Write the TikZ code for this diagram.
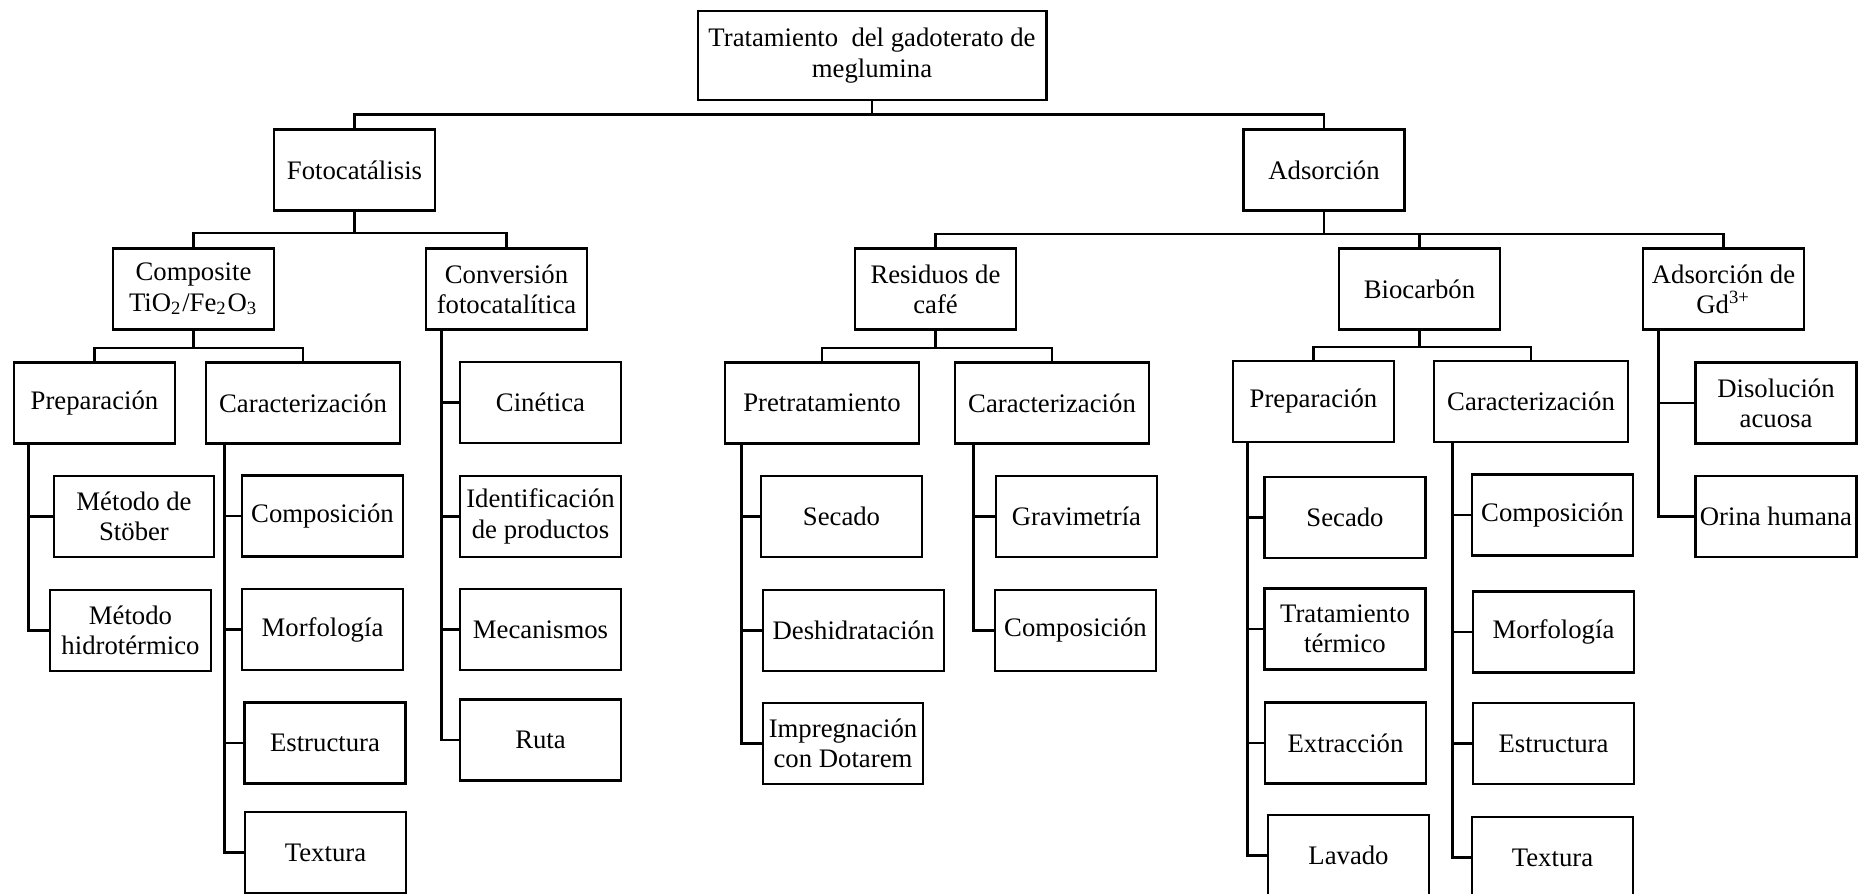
\documentclass[tikz,border=0pt]{standalone}
\usepackage{fontspec}
\setmainfont{Liberation Serif}

\tikzset{
  box/.style={draw, line width=0.8pt, align=center, inner sep=0pt,
    minimum width=1.61cm, minimum height=0.81cm,
    font=\fontsize{7.6}{8.6}\selectfont},
  wide/.style={box, minimum width=1.94cm},
  link/.style={line width=0.8pt}
}

\begin{document}
\begin{tikzpicture}[x=0.01cm, y=-0.01cm]
    \useasboundingbox (0,0) rectangle (1860,893);

    % Root
    \node[box, minimum width=3.48cm, minimum height=0.89cm] (top) at (872,55.5)
        {Tratamiento\ \ del gadoterato de\\meglumina};

    % First level
    \node[box] (foto) at (354.5,170) {Fotocatálisis};
    \node[box] (adso) at (1324,170) {Adsorción};

    % Second level
    \node[box] (comp) at (193.5,289) {Composite\\TiO\textsubscript{2}/Fe\textsubscript{2}O\textsubscript{3}};
    \node[box] (conv) at (506.5,289) {Conversión\\fotocatalítica};
    \node[box] (resi) at (935.5,289) {Residuos de\\café};
    \node[box] (bioc) at (1419.5,289) {Biocarbón};
    \node[box] (gdad) at (1723.5,289) {Adsorción de\\Gd\textsuperscript{3+}};

    % Third level
    \node[box] (prepA) at (94.5,403) {Preparación};
    \node[wide] (caraA) at (303,403) {Caracterización};
    \node[box] (cine) at (540.5,402.5) {Cinética};
    \node[wide] (pret) at (822,403) {Pretratamiento};
    \node[wide] (caraB) at (1052,403) {Caracterización};
    \node[box] (prepB) at (1313.5,401.5) {Preparación};
    \node[wide] (caraC) at (1531,401.5) {Caracterización};
    \node[box] (diso) at (1776,403) {Disolución\\acuosa};

    % Leaves
    \node[box, minimum width=1.6cm] (stob) at (134,516.5) {Método de\\Stöber};
    \node[box] (hidr) at (130.5,630.5) {Método\\hidrotérmico};

    \node[box] (compA) at (322.5,516) {Composición};
    \node[box] (morfA) at (322.5,629.5) {Morfología};
    \node[box] (estrA) at (325,743) {Estructura};
    \node[box] (textA) at (325.5,852.5) {Textura};

    \node[box] (iden) at (540.5,516.5) {Identificación\\de productos};
    \node[box] (meca) at (540.5,629.5) {Mecanismos};
    \node[box] (ruta) at (540.5,740) {Ruta};

    \node[box] (secA) at (841.5,516.5) {Secado};
    \node[box, minimum width=1.81cm] (desh) at (853.5,630.5) {Deshidratación};
    \node[box, minimum width=1.6cm] (impr) at (843,743.5) {Impregnación\\con Dotarem};

    \node[box] (grav) at (1076.5,516.5) {Gravimetría};
    \node[box] (compB) at (1075.5,630.5) {Composición};

    \node[box] (secB) at (1345,517.5) {Secado};
    \node[box] (trat) at (1345,629) {Tratamiento\\térmico};
    \node[box] (extr) at (1345.5,743) {Extracción};
    \node[box] (lava) at (1348.5,855.5) {Lavado};

    \node[box] (compC) at (1552.5,515) {Composición};
    \node[box] (morfC) at (1553.5,632) {Morfología};
    \node[box] (estrC) at (1553.5,743.5) {Estructura};
    \node[box] (textC) at (1552.5,857.5) {Textura};

    \node[box] (orin) at (1776,516.5) {Orina humana};

    % Tree connectors
    \foreach \c in {foto, adso}
        \draw[link] (top.south) -- ++(0,13) -| (\c.north);
    \foreach \c in {comp, conv}
        \draw[link] (foto.south) -- ++(0,21) -| (\c.north);
    \foreach \c in {resi, bioc, gdad}
        \draw[link] (adso.south) -- ++(0,22) -| (\c.north);
    \foreach \c in {prepA, caraA}
        \draw[link] (comp.south) -- ++(0,17) -| (\c.north);
    \foreach \c in {pret, caraB}
        \draw[link] (resi.south) -- ++(0,17) -| (\c.north);
    \foreach \c in {prepB, caraC}
        \draw[link] (bioc.south) -- ++(0,16) -| (\c.north);

    % Side lists
    \foreach \c in {cine, iden, meca, ruta}
        \draw[link] ([xshift=0.17cm]conv.south west) |- (\c.west);
    \foreach \c in {diso, orin}
        \draw[link] ([xshift=0.17cm]gdad.south west) |- (\c.west);
    \foreach \c in {stob, hidr}
        \draw[link] ([xshift=0.16cm]prepA.south west) |- (\c.west);
    \foreach \c in {compA, morfA, estrA, textA}
        \draw[link] ([xshift=0.2cm]caraA.south west) |- (\c.west);
    \foreach \c in {secA, desh, impr}
        \draw[link] ([xshift=0.18cm]pret.south west) |- (\c.west);
    \foreach \c in {grav, compB}
        \draw[link] ([xshift=0.2cm]caraB.south west) |- (\c.west);
    \foreach \c in {secB, trat, extr, lava}
        \draw[link] ([xshift=0.16cm]prepB.south west) |- (\c.west);
    \foreach \c in {compC, morfC, estrC, textC}
        \draw[link] ([xshift=0.2cm]caraC.south west) |- (\c.west);
\end{tikzpicture}
\end{document}
